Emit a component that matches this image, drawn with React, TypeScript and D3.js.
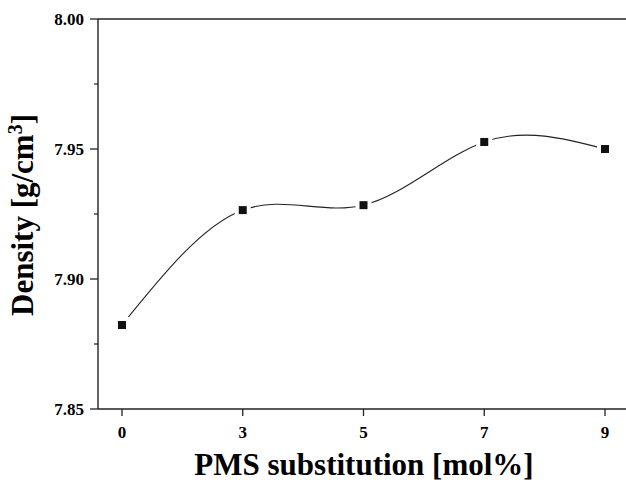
import * as d3 from "d3";
import React from "react";

const categories = ["0", "3", "5", "7", "9"];
const density = [7.8823, 7.9265, 7.9284, 7.9527, 7.95];
const yTicks = [7.85, 7.9, 7.95, 8.0];
const yMinorTicks = [7.875, 7.925, 7.975];

const App = () => {
  const width = 626;
  const height = 484;
  const plot = { left: 98, top: 19, right: 626, bottom: 409 };

  const xScale = d3.scalePoint<string>().domain(categories).range([122, 605]);
  const yScale = d3.scaleLinear().domain([7.85, 8.0]).range([plot.bottom, plot.top]);

  const points = categories.map((c, i) => [xScale(c)!, yScale(density[i])] as [number, number]);
  const linePath = d3.line().curve(d3.curveNatural)(points) || "";

  const font = "Liberation Serif";
  const axisColor = "#222";

  return (
    <svg width={width} height={height} style={{ position: "absolute", left: 0, top: 0 }}>
      <rect width={width} height={height} fill="#fff" />
      {/* frame: left, bottom, top */}
      <line x1={plot.left} x2={plot.left} y1={plot.top} y2={plot.bottom} stroke={axisColor} strokeWidth={1.4} />
      <line x1={plot.left} x2={plot.right} y1={plot.bottom} y2={plot.bottom} stroke={axisColor} strokeWidth={1.4} />
      <line x1={plot.left} x2={plot.right} y1={plot.top} y2={plot.top} stroke={axisColor} strokeWidth={1.4} />

      {yTicks.map((t) => (
        <g key={t}>
          <line x1={plot.left - 8} x2={plot.left} y1={yScale(t)} y2={yScale(t)} stroke={axisColor} strokeWidth={1.3} />
          <text x={plot.left - 14} y={yScale(t)} dy="0.35em" textAnchor="end" fontFamily={font} fontWeight="bold" fontSize={17}>
            {t.toFixed(2)}
          </text>
        </g>
      ))}
      {yMinorTicks.map((t) => (
        <line key={t} x1={plot.left - 4} x2={plot.left} y1={yScale(t)} y2={yScale(t)} stroke={axisColor} strokeWidth={1.2} />
      ))}

      {categories.map((c) => (
        <g key={c}>
          <line x1={xScale(c)} x2={xScale(c)} y1={plot.bottom} y2={plot.bottom + 7} stroke={axisColor} strokeWidth={1.3} />
          <text x={xScale(c)} y={438} textAnchor="middle" fontFamily={font} fontWeight="bold" fontSize={17}>
            {c}
          </text>
        </g>
      ))}

      <path d={linePath} fill="none" stroke="#222" strokeWidth={1.1} />
      {points.map(([x, y], i) => (
        <g key={i}>
          <rect x={x - 8} y={y - 8} width={16} height={16} fill="#fff" />
          <rect x={x - 4} y={y - 4} width={8} height={8} fill="#111" />
        </g>
      ))}

      <text x={364} y={475} textAnchor="middle" fontFamily={font} fontWeight="bold" fontSize={31}>
        PMS substitution [mol%]
      </text>
      <text
        transform={`translate(33,215) rotate(-90)`}
        textAnchor="middle"
        fontFamily={font}
        fontWeight="bold"
        fontSize={31}
      >
        Density [g/cm<tspan dy={-11} fontSize={20}>3</tspan><tspan dy={11}>]</tspan>
      </text>
    </svg>
  );
};

export default App;
